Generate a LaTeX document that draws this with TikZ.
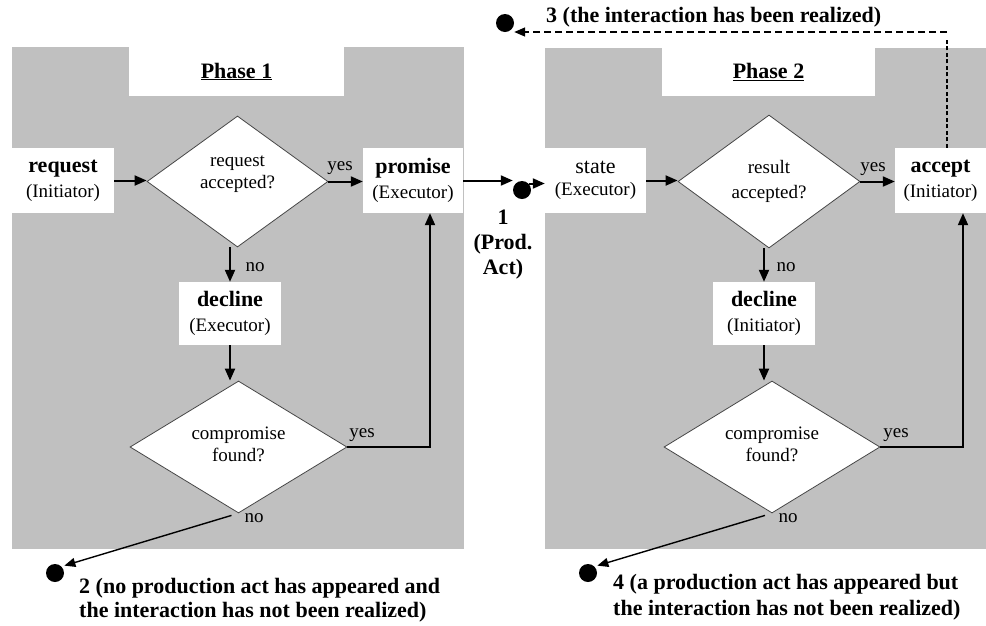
\documentclass[tikz,border=0pt]{standalone}
\usepackage{fontspec}
\setmainfont{Liberation Serif}
\usetikzlibrary{shapes.geometric,arrows.meta,calc}
\definecolor{panel}{RGB}{192,192,192}
\definecolor{edge}{RGB}{70,70,70}
\newcommand\rgtext{\fontsize{19}{25}\selectfont}
\newcommand\bdtext{\fontsize{22}{25}\selectfont\bfseries}

\begin{document}
\begin{tikzpicture}[x=1pt,y=-1pt,
  box/.style={fill=white, inner sep=0pt, align=center, font=\rgtext},
  decision/.style={diamond, draw=edge, line width=0.8pt, fill=white, inner sep=0pt},
  dtext/.style={align=center, font=\fontsize{19}{22}\selectfont, inner sep=0pt},
  lbl/.style={font=\rgtext, inner sep=0pt},
  note/.style={font=\bdtext, inner sep=0pt},
  dot/.style={circle, fill=black, minimum size=18pt, inner sep=0pt},
  arr/.style={line width=2pt, -{Triangle[length=12pt,width=10pt]}},
  thinarr/.style={line width=1.4pt, -{Triangle[length=11pt,width=9pt]}, shorten >=3pt},
  dashv/.style={line width=1.4pt, dash pattern=on 4pt off 2.5pt},
  dashh/.style={line width=1.5pt, dash pattern=on 7pt off 4pt, -{Triangle[length=11pt,width=9pt]}}
]
\useasboundingbox (0,0) rectangle (986,625);
\fill[white] (0,0) rectangle (986,625);

% the two phase panels
\fill[panel] (12,47) rectangle (464,549);
\fill[panel] (545,48) rectangle (986,549);

% panel titles in their white notches
\node[box, font=\bdtext, minimum width=215pt, minimum height=49pt] (t1) at (236.5,71.5) {\underline{Phase 1}};
\node[box, font=\bdtext, minimum width=213pt, minimum height=48pt] (t2) at (768.5,72) {\underline{Phase 2}};

% phase 1
\node[box, minimum width=102pt, minimum height=65pt] (req) at (63,180.5) {{\bdtext request}\\(Initiator)};
\node[decision, minimum width=181pt, minimum height=131pt] (d1) at (237.5,181.5) {};
\node[dtext] (d1t) at (237.5,174.5) {request\\accepted?};
\node[box, minimum width=100pt, minimum height=65pt] (prom) at (413,180.5) {{\bdtext promise}\\(Executor)};
\node[box, minimum width=102pt, minimum height=63pt] (dec1) at (230,313.5) {{\bdtext decline}\\(Executor)};
\node[decision, minimum width=217pt, minimum height=132pt] (d2) at (238.5,447) {};
\node[dtext] (d2t) at (238.5,444) {compromise\\found?};

% phase 2
\node[box, font=\fontsize{19}{22}\selectfont, minimum width=101pt, minimum height=65pt] (st) at (595.5,180.5) {{\fontsize{22}{22}\selectfont state}\\(Executor)};
\node[decision, minimum width=182pt, minimum height=133pt] (d3) at (769,181.5) {};
\node[dtext, font=\rgtext] (d3t) at (769,181) {result\\accepted?};
\node[box, minimum width=91pt, minimum height=65pt] (acc) at (940.5,180.5) {{\bdtext accept}\\(Initiator)};
\node[box, minimum width=102pt, minimum height=63pt] (dec2) at (764,313.5) {{\bdtext decline}\\(Initiator)};
\node[decision, minimum width=216pt, minimum height=132pt] (d4) at (772,447) {};
\node[dtext] (d4t) at (772,444) {compromise\\found?};

% end states
\node[dot] (dot1) at (522,190) {};
\node[dot] (dot2) at (55,573) {};
\node[dot] (dot3) at (505,23) {};
\node[dot] (dot4) at (588,573) {};

\node[note, align=center] (n1) at (503,245) {1\\(Prod.\\Act)};
\node[note, anchor=west, align=left, font=\fontsize{22}{24}\selectfont\bfseries] (n2) at (79,600)
  {2 (no production act has appeared and\\the interaction has not been realized)};
\node[note, anchor=west] (n3) at (546,17) {3 (the interaction has been realized)};
\node[note, anchor=west, align=left, font=\fontsize{22}{26}\selectfont\bfseries] (n4) at (613,597)
  {4 (a production act has appeared but\\the interaction has not been realized)};

% branch labels
\node[lbl] (y1) at (340,168) {yes};
\node[lbl] (o1) at (255,267) {no};
\node[lbl] (y2) at (362,435) {yes};
\node[lbl] (o2) at (254,518) {no};
\node[lbl] (y3) at (873,169) {yes};
\node[lbl] (o3) at (786,267) {no};
\node[lbl] (y4) at (896,435) {yes};
\node[lbl] (o4) at (788,518) {no};

% connectors, phase 1
\draw[arr] (req.east) -- (req.east -| d1.west);
\draw[arr] (d1.east) -- (d1.east -| prom.west);
\draw[arr] (d1.south -| dec1.north) -- (dec1.north);
\draw[arr] (dec1.south) -- (dec1.south |- d2.north);
\coordinate (j1) at (430,447);
\draw[arr] (d2.east) -- (j1) -- (j1 |- prom.south);
\draw[thinarr] ($(d2.south)+(-7,2)$) -- (dot2.north east);

% production act between the phases
\draw[arr] (prom.east) -- (prom.east -| dot1.west);
\draw[arr] (dot1.north east) -- (dot1.north east -| st.west);

% connectors, phase 2
\draw[arr] (st.east) -- (st.east -| d3.west);
\draw[arr] (d3.east) -- (d3.east -| acc.west);
\draw[arr] (d3.south -| dec2.north) -- (dec2.north);
\draw[arr] (dec2.south) -- (dec2.south |- d4.north);
\coordinate (j2) at (963,447);
\draw[arr] (d4.east) -- (j2) -- (j2 |- acc.south);
\draw[thinarr] ($(d4.south)+(-7,2)$) -- (dot4.north east);

% realized interaction
\coordinate (j3) at (947,32);
\draw[dashv] (acc.north -| j3) -- (j3 |- 0,40);
\draw[dashh] (j3) -- (j3 -| dot3.east);
\end{tikzpicture}
\end{document}
